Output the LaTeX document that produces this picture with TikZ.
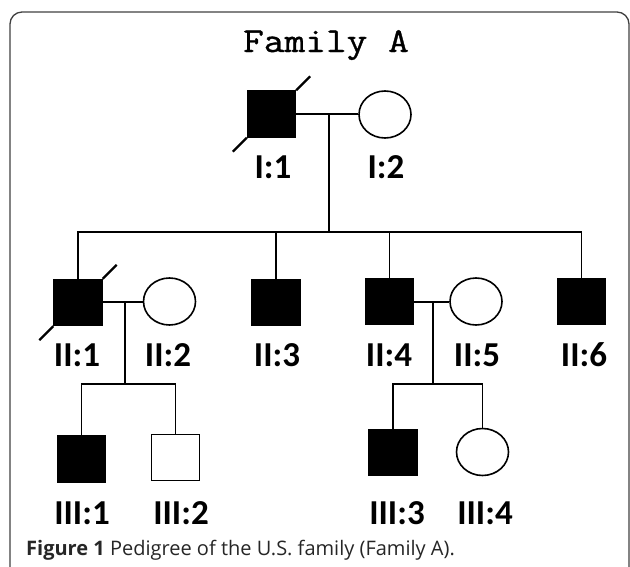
\documentclass[tikz,border=0pt]{standalone}
\usepackage{fontspec}
\usetikzlibrary{shapes.geometric}
\newfontfamily\titlefont[FakeStretch=1.15,FakeBold=1]{Latin Modern Mono}
\newfontfamily\labelfont{Carlito}
\newfontfamily\capfont{Open Sans}
\tikzset{
  conn/.style={line width=1.6pt, black},
  affm/.style={rectangle, draw=black, fill=black, line width=1.4pt, inner sep=0pt, minimum width=48pt, minimum height=46pt},
  unaffm/.style={rectangle, draw=black, fill=white, line width=1.6pt, inner sep=0pt, minimum width=48pt, minimum height=46pt},
  fem/.style={ellipse, draw=black, fill=white, line width=1.6pt, inner sep=0pt, minimum width=52pt, minimum height=47pt},
  lbl/.style={font=\labelfont\bfseries\fontsize{35}{40}\selectfont, inner sep=0pt, anchor=center},
  deceased/.style={line width=2.2pt, black},
  frame/.style={draw=black!75, line width=1.3pt, rounded corners=12pt}
}
\begin{document}
\begin{tikzpicture}[x=1pt,y=-1pt]
\useasboundingbox (0,0) rectangle (630,566);
\clip (0,0) rectangle (630,566);
\draw[frame] (10,620) -- (10,12) -- (629,12) -- (629,620);

\node[font=\titlefont\fontsize{35}{40}\selectfont, anchor=base, inner sep=0pt] (title) at (326,52) {Family A};

% generation I
\node[affm] (I1) at (271.5,114) {};
\node[fem] (I2) at (385,114.5) {};
\node[lbl] (LI1) at (273,167) {I:1};
\node[lbl] (LI2) at (386,167) {I:2};
\draw[deceased] (I1.south west) -- ++(-14,14);
\draw[deceased] (I1.north east) -- ++(14,-14);

% generation II
\node[affm] (II1) at (78,302.5) {};
\node[fem] (II2) at (169.5,301.5) {};
\node[affm] (II3) at (276,302.5) {};
\node[affm] (II4) at (389.5,301.5) {};
\node[fem] (II5) at (476,301.5) {};
\node[affm] (II6) at (581.5,301.5) {};
\draw[deceased] (II1.south west) -- ++(-14,14);
\draw[deceased] (II1.north east) -- ++(14,-14);
\node[lbl] (LII1) at (77,355) {II:1};
\node[lbl] (LII2) at (168,355) {II:2};
\node[lbl] (LII3) at (277,355) {II:3};
\node[lbl] (LII4) at (389,355) {II:4};
\node[lbl] (LII5) at (477,355) {II:5};
\node[lbl] (LII6) at (584,355) {II:6};

% generation III
\node[affm] (III1) at (81.5,459) {};
\node[unaffm] (III2) at (175.5,457.5) {};
\node[affm] (III3) at (393,452.5) {};
\node[fem] (III4) at (482.5,452) {};
\node[lbl] (LIII1) at (82,513) {III:1};
\node[lbl] (LIII2) at (181,513) {III:2};
\node[lbl] (LIII3) at (397,513) {III:3};
\node[lbl] (LIII4) at (485,513) {III:4};

% connectors generation I -> II
\coordinate (m1) at (329,114);
\coordinate (s1) at (329,232);
\draw[conn] (I1.east) -- (I1.east -| I2.west);
\draw[conn] (m1) -- (s1);
\draw[conn] (II1.north) |- (s1) -| (II6.north);
\draw[conn] (II3.north) -- (II3.north |- s1);
\draw[conn] (II4.north) -- (II4.north |- s1);

% connectors II:1 x II:2
\coordinate (m2) at (125,302);
\coordinate (s2) at (125,384);
\draw[conn] (II1.east |- m2) -- (II2.west |- m2);
\draw[conn] (m2) -- (s2);
\draw[conn] (III1.north) |- (s2) -| (III2.north);

% connectors II:4 x II:5
\coordinate (m3) at (433,302);
\coordinate (s3) at (433,384);
\draw[conn] (II4.east |- m3) -- (II5.west |- m3);
\draw[conn] (m3) -- (s3);
\draw[conn] (III3.north) |- (s3) -| (III4.north);

\node[anchor=base west, inner sep=0pt, font=\capfont\fontsize{20}{24}\selectfont, text=black!85] (cap) at (26,555) {\textbf{Figure 1} Pedigree of the U.S. family (Family A).};
\end{tikzpicture}
\end{document}
